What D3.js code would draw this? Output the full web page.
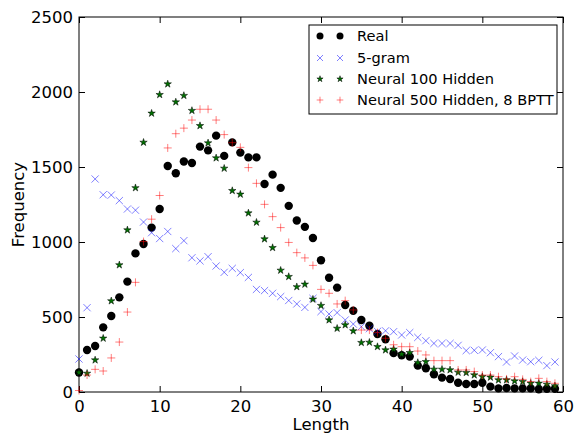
<!DOCTYPE html>
<html>
<head>
<meta charset="utf-8">
<script src="https://cdn.jsdelivr.net/npm/d3@7"></script>
<style>
  body { margin: 0; background: #fff; }
  svg { font-family: "DejaVu Sans", sans-serif; }
</style>
</head>
<body>
<svg id="chart" width="574" height="434"></svg>
<script>
// sentence lengths 0..59
const lengths = d3.range(0, 60);

const real = [130, 280, 307, 431, 507, 631, 736, 924, 987, 1096,
  1220, 1507, 1458, 1537, 1527, 1636, 1611, 1709, 1574, 1664,
  1596, 1564, 1564, 1387, 1449, 1361, 1241, 1143, 1101, 1027,
  878, 762, 696, 580, 542, 480, 442, 387, 352, 259,
  245, 236, 176, 158, 118, 96, 87, 62, 53, 53,
  62, 36, 24, 27, 24, 24, 24, 18, 22, 22];

const fivegram = [220, 562, 1420, 1315, 1313, 1276, 1220, 1212, 1133, 1062,
  1023, 1070, 956, 1009, 895, 874, 902, 840, 798, 824,
  796, 764, 684, 676, 658, 636, 610, 587, 564, 624,
  536, 520, 529, 480, 453, 436, 422, 404, 408, 402,
  380, 396, 364, 342, 324, 324, 324, 311, 276, 278,
  280, 262, 236, 200, 240, 213, 202, 211, 176, 200];

const neural100 = [130, 124, 213, 358, 607, 847, 1080, 1361, 1664, 1858,
  1982, 2053, 1933, 1976, 1876, 1775, 1660, 1560, 1491, 1342,
  1318, 1193, 1131, 1020, 962, 811, 769, 701, 718, 618,
  576, 480, 424, 447, 407, 329, 331, 302, 280, 285,
  252, 262, 196, 202, 151, 151, 147, 131, 129, 113,
  102, 98, 80, 80, 73, 69, 58, 58, 51, 40];

const neural500 = [10, 113, 151, 140, 227, 333, 533, 731, 1003, 1152,
  1310, 1627, 1722, 1759, 1813, 1885, 1885, 1813, 1716, 1662,
  1631, 1496, 1391, 1251, 1169, 1096, 997, 929, 894, 844,
  684, 658, 587, 609, 547, 413, 413, 396, 358, 315,
  302, 302, 273, 247, 209, 209, 209, 147, 147, 136,
  113, 113, 102, 87, 102, 84, 69, 91, 69, 58];

const seriesNames = ["Real", "5-gram", "Neural 100 Hidden", "Neural 500 Hidden, 8 BPTT"];
const xTicks = [0, 10, 20, 30, 40, 50, 60];
const yTicks = [0, 500, 1000, 1500, 2000, 2500];

const svg = d3.select("#chart");
const margin = { top: 17, right: 11, bottom: 42, left: 79 };
const width = 574, height = 434;

const x = d3.scaleLinear().domain([0, 60]).range([margin.left, width - margin.right]);
const y = d3.scaleLinear().domain([0, 2500]).range([height - margin.bottom, margin.top]);

const fontSize = 16.5;
const tick = 6;

// axes (ticks inward on all four sides, classic style)
const axBottom = svg.append("g")
  .attr("transform", `translate(0,${y(0)})`)
  .call(d3.axisBottom(x).tickValues(xTicks).tickFormat(d3.format("d"))
    .tickSize(-tick).tickPadding(8).tickSizeOuter(0));
const axTop = svg.append("g")
  .attr("transform", `translate(0,${y(2500)})`)
  .call(d3.axisTop(x).tickValues(xTicks).tickSize(-tick).tickFormat("").tickSizeOuter(0));
const axLeft = svg.append("g")
  .attr("transform", `translate(${x(0)},0)`)
  .call(d3.axisLeft(y).tickValues(yTicks).tickFormat(d3.format("d"))
    .tickSize(-tick).tickPadding(6).tickSizeOuter(0));
const axRight = svg.append("g")
  .attr("transform", `translate(${x(60)},0)`)
  .call(d3.axisRight(y).tickValues(yTicks).tickSize(-tick).tickFormat("").tickSizeOuter(0));

[axBottom, axTop, axLeft, axRight].forEach(g => {
  g.select(".domain").remove();
  g.selectAll(".tick line").attr("stroke", "#000").attr("stroke-width", 1);
  g.selectAll("text").attr("font-size", fontSize).attr("fill", "#000")
    .attr("font-family", "DejaVu Sans, sans-serif");
});

// plot frame
svg.append("rect")
  .attr("x", x(0)).attr("y", y(2500))
  .attr("width", x(60) - x(0)).attr("height", y(0) - y(2500))
  .attr("fill", "none").attr("stroke", "#000").attr("stroke-width", 1);

const plot = svg.append("g");

// Real: black dots
plot.selectAll(".real").data(real).join("circle")
  .attr("cx", (d, i) => x(lengths[i]))
  .attr("cy", d => y(d))
  .attr("r", 4.2)
  .attr("fill", "#000");

// 5-gram: light blue crosses
const xPath = s => `M${-s},${-s}L${s},${s}M${-s},${s}L${s},${-s}`;
plot.selectAll(".fg").data(fivegram).join("path")
  .attr("transform", (d, i) => `translate(${x(lengths[i])},${y(d)})`)
  .attr("d", xPath(3.6))
  .attr("fill", "none")
  .attr("stroke", "#0000ff")
  .attr("stroke-opacity", 0.5)
  .attr("stroke-width", 1);

// Neural 100: green stars
const star = d3.symbol().type(d3.symbolStar).size(17);
plot.selectAll(".n100").data(neural100).join("path")
  .attr("transform", (d, i) => `translate(${x(lengths[i])},${y(d)})`)
  .attr("d", star)
  .attr("fill", "#007000")
  .attr("stroke", "#000")
  .attr("stroke-width", 0.5);

// Neural 500: light red plus
const plusPath = s => `M${-s},0L${s},0M0,${-s}L0,${s}`;
plot.selectAll(".n500").data(neural500).join("path")
  .attr("transform", (d, i) => `translate(${x(lengths[i])},${y(d)})`)
  .attr("d", plusPath(4))
  .attr("fill", "none")
  .attr("stroke", "#ff0000")
  .attr("stroke-opacity", 0.5)
  .attr("stroke-width", 1);

// axis labels
svg.append("text")
  .attr("x", (x(0) + x(60)) / 2)
  .attr("y", 430)
  .attr("text-anchor", "middle")
  .attr("font-size", fontSize)
  .text("Length");

svg.append("text")
  .attr("transform", `translate(24,${(y(0) + y(2500)) / 2}) rotate(-90)`)
  .attr("text-anchor", "middle")
  .attr("font-size", fontSize)
  .text("Frequency");

// legend
const legend = svg.append("g").attr("transform", "translate(309,25)");
legend.append("rect")
  .attr("width", 248).attr("height", 89)
  .attr("fill", "#fff").attr("stroke", "#000").attr("stroke-width", 1);

const rowY = [11, 33, 54, 75];
const drawMarker = (g, i, mx, my) => {
  if (i === 0) {
    g.append("circle").attr("cx", mx).attr("cy", my).attr("r", 3.5).attr("fill", "#000");
  } else if (i === 1) {
    g.append("path").attr("transform", `translate(${mx},${my})`).attr("d", xPath(3))
      .attr("stroke", "#0000ff").attr("stroke-opacity", 0.5).attr("fill", "none");
  } else if (i === 2) {
    g.append("path").attr("transform", `translate(${mx},${my})`)
      .attr("d", d3.symbol().type(d3.symbolStar).size(12)())
      .attr("fill", "#007000").attr("stroke", "#000").attr("stroke-width", 0.5);
  } else {
    g.append("path").attr("transform", `translate(${mx},${my})`).attr("d", plusPath(3.3))
      .attr("stroke", "#ff0000").attr("stroke-opacity", 0.5).attr("fill", "none");
  }
};
seriesNames.forEach((name, i) => {
  const row = legend.append("g");
  drawMarker(row, i, 11, rowY[i]);
  drawMarker(row, i, 31, rowY[i]);
  row.append("text")
    .attr("x", 48)
    .attr("y", rowY[i])
    .attr("dy", "0.35em")
    .attr("font-size", 14.6)
    .text(name);
});
</script>
</body>
</html>
